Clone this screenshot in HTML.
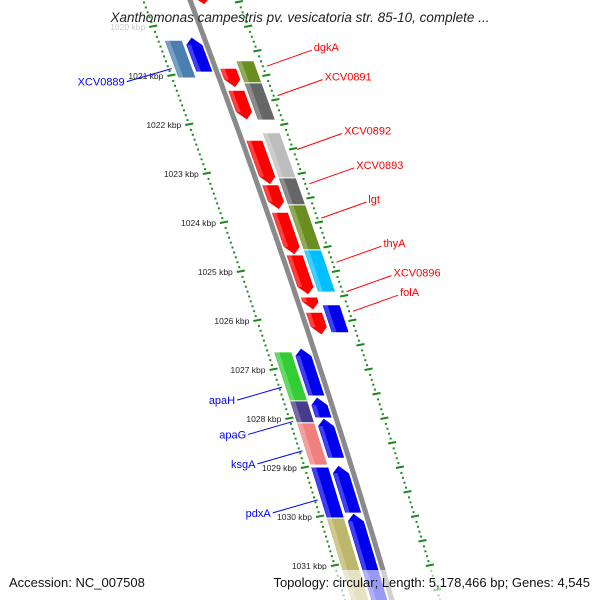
<!DOCTYPE html>
<html><head><meta charset="utf-8"><style>
html,body{margin:0;padding:0;background:#fff;}
svg{display:block;font-family:"Liberation Sans",sans-serif;}
</style></head><body>
<svg id="map" width="600" height="600" viewBox="0 0 600 600" xmlns="http://www.w3.org/2000/svg">
<g id="tracks"></g>
<path id="backbone" fill="none" stroke="#8a8a8a" stroke-width="5"></path>
<g id="feats"></g>
<g id="kbp" font-size="8.5" fill="#222"></g>
<g id="labels" font-size="11"></g>
<text x="300" y="22" text-anchor="middle" font-size="13.5" font-style="italic" fill="#222">Xanthomonas campestris pv. vesicatoria str. 85-10, complete ...</text>
<rect x="0" y="570" width="600" height="30" fill="#fff" opacity="0.6"></rect>
<text x="9" y="587" font-size="13" fill="#111">Accession: NC_007508</text>
<text x="590" y="587" text-anchor="end" font-size="13" fill="#111">Topology: circular; Length: 5,178,466 bp; Genes: 4,545</text>
</svg>
<script>
const featStart = [1019.40,1020.20,1020.27,1020.84,1020.69,1021.29,1021.14,1022.31,1022.16,1023.08,1023.22,1023.78,1023.63,1024.65,1024.55,1025.51,1025.82,1025.67,1026.63,1026.55,1027.63,1027.55,1028.08,1027.98,1028.98,1028.94,1030.02,1029.92];
const featEnd   = [1019.55,1020.92,1021.04,1021.24,1021.14,1021.90,1021.90,1023.22,1023.12,1023.63,1023.73,1024.65,1024.59,1025.47,1025.41,1025.78,1026.29,1026.24,1027.65,1027.53,1028.08,1027.98,1028.94,1028.80,1030.02,1029.92,1031.80,1031.80];
const featLane  = ['R1','L1','L2','R1','R2','R1','R2','R1','R2','R2','R1','R1','R2','R1','R2','R1','R1','R2','L2','L1','L2','L1','L2','L1','L2','L1','L2','L1'];
const featColor = ['#ff0000','#0000ee','#4a7fb0','#ff0000','#6b8e23','#ff0000','#666666','#ff0000','#bdbdbd','#666666','#ff0000','#ff0000','#6b8e23','#ff0000','#00bfff','#ff0000','#ff0000','#0000ee','#32cd32','#0000ee','#483d8b','#0000ee','#f08080','#0000ee','#0000ee','#0000ee','#bdb76b','#0000ee'];
const featArrow = [1,-1,0,1,0,1,0,1,0,0,1,1,0,1,0,1,1,0,0,-1,0,-1,0,-1,0,-1,0,-1];
const kbpTicks = [1020,1021,1022,1023,1024,1025,1026,1027,1028,1029,1030,1031];
const kbpText = ['1020 kbp','1021 kbp','1022 kbp','1023 kbp','1024 kbp','1025 kbp','1026 kbp','1027 kbp','1028 kbp','1029 kbp','1030 kbp','1031 kbp'];
const rightNames = ['dgkA','XCV0891','XCV0892','XCV0893','lgt','thyA','XCV0896','folA'];
const rightKbp = [1020.8,1021.4,1022.5,1023.2,1023.9,1024.8,1025.4,1025.8];
const leftNames = ['XCV0889','apaH','apaG','ksgA','pdxA'];
const leftKbp = [1020.85,1027.35,1028.05,1028.65,1029.65];

const NS='http://www.w3.org/2000/svg';
const Y=k=>76+(k-1021)*49;
const bx=y=>190+0.379*y-7.08e-5*y*y;
const lanes={L2:[-41,-23],L1:[-21,-4],R1:[4,21],R2:[23,41]};
function mk(tag,attrs,parent){const e=document.createElementNS(NS,tag);for(const k in attrs)e.setAttribute(k,attrs[k]);parent.appendChild(e);return e;}

// backbone
let d='';for(let y=-5;y<=605;y+=5)d+=(y<0?'M':'L')+bx(y).toFixed(1)+','+y+' ';
document.getElementById('backbone').setAttribute('d',d);

// tracks
const tr=document.getElementById('tracks');
for(let k=1019;k<=1032.2;k+=0.1){
  const y=Y(k);if(y<-5||y>605)continue;
  const r=Math.round(k*10);
  const lmaj=r%10===0, rmaj=r%5===0;
  const xl=bx(y)-47, xr=bx(y)+48;
  const a=mk('line',{x1:xl-(lmaj?4:1),y1:y,x2:xl+(lmaj?4:1),y2:y+(lmaj?-1.5:0),stroke:'#1a8a1a','stroke-width':2},tr);
  
  
  const b=mk('line',{x1:xr-(rmaj?4:1),y1:y,x2:xr+(rmaj?4:1),y2:y+(rmaj?-1.5:0),stroke:'#1a8a1a','stroke-width':2},tr);
  
  
}

// features
const fg=document.getElementById('feats');
for(let i=0;i<featStart.length;i++){
  const y1=Y(featStart[i]),y2=Y(featEnd[i]);const [o1,o2]=lanes[featLane[i]];
  const g=mk('g',{},fg);
  
  
  let pts;
  const P=(y,o)=>(bx(y)+o).toFixed(1)+','+y.toFixed(1);
  const om=(o1+o2)/2;
  if(featArrow[i]===1){const t=Math.max(y1,y2-8);pts=[P(y1,o1),P(y1,o2),P(t,o2),P(y2,om),P(t,o1)];}
  else if(featArrow[i]===-1){const t=Math.min(y2,y1+8);pts=[P(y1,om),P(t,o2),P(y2,o2),P(y2,o1),P(t,o1)];}
  else pts=[P(y1,o1),P(y1,o2),P(y2,o2),P(y2,o1)];
  mk('polygon',{points:pts.join(' '),fill:featColor[i],stroke:'#fff','stroke-width':1},g);
  const oh=o1+(o2-o1)*0.3;
  const hy1=featArrow[i]===-1?Math.min(y2,y1+8):y1, hy2=featArrow[i]===1?Math.max(y1,y2-8):y2;
  mk('polygon',{points:[P(hy1,o1+1),P(hy1,oh),P(hy2,oh),P(hy2,o1+1)].join(' '),fill:'#fff',opacity:0.25},g);
}

// kbp labels
const kg=document.getElementById('kbp');
kbpTicks.forEach((k,i)=>{const y=Y(k);const t=mk('text',{x:(bx(y)-55).toFixed(1),y:(y+3).toFixed(1),'text-anchor':'end',opacity:k===1020?0.25:1},kg);t.textContent=kbpText[i];
  
  });

// gene labels
const lg=document.getElementById('labels');
rightNames.forEach((n,i)=>{const y=Y(rightKbp[i]);const x0=bx(y)+52;
  const l=mk('line',{x1:x0,y1:y,x2:x0+45,y2:y-16,stroke:'#f00','stroke-width':1},lg);
  
  
  const t=mk('text',{x:x0+47,y:y-15,fill:'#f00'},lg);t.textContent=n;
  
  });
leftNames.forEach((n,i)=>{const y=Y(leftKbp[i]);const x0=bx(y)-44;
  const l=mk('line',{x1:x0,y1:y,x2:x0-45,y2:y+13,stroke:'#00f','stroke-width':1},lg);
  
  
  const t=mk('text',{x:x0-47,y:y+17,fill:'#00f','text-anchor':'end'},lg);t.textContent=n;
  
  });
</script>
</body></html>
